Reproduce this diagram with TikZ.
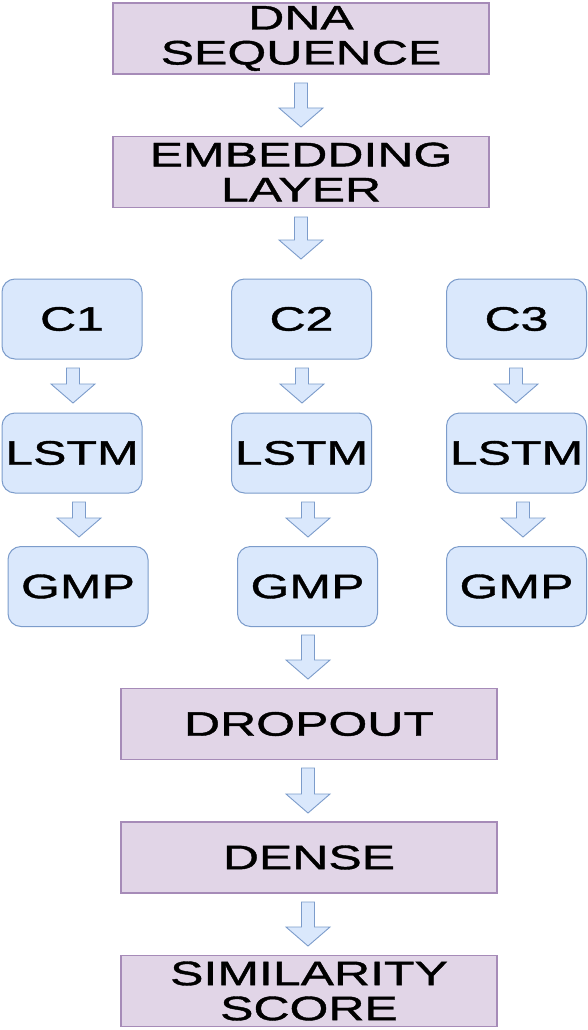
\documentclass[tikz,border=0pt]{standalone}
\usepackage{fontspec}
\setmainfont{Liberation Sans}[FakeStretch=1.47,FakeBold=1.2]
\definecolor{pfill}{HTML}{E1D5E7}
\definecolor{pdraw}{HTML}{A68BB8}
\definecolor{bfill}{HTML}{DAE8FC}
\definecolor{bdraw}{HTML}{7C9CCB}
\tikzset{
  x=1pt, y=-1pt,
  layerbox/.style={draw=pdraw, fill=pfill, line width=1.1pt, minimum width=376pt, minimum height=71pt,
    inner sep=0pt, align=center, font=\fontsize{34}{35}\selectfont},
  opbox/.style={draw=bdraw, fill=bfill, line width=1pt, rounded corners=13pt, minimum width=140pt,
    minimum height=80pt, inner sep=0pt, align=center, font=\fontsize{34}{35}\selectfont},
  blockarrow/.style={draw=bdraw, fill=bfill, line width=0.9pt, line join=miter}
}
% \blockarr{x}{ytop}{ybottom}
\newcommand{\blockarr}[3]{%
  \draw[blockarrow] (#1-6.5,#2) -- (#1+6.5,#2) -- (#1+6.5,#3-19) -- (#1+22,#3-19) -- (#1,#3)
    -- (#1-22,#3-19) -- (#1-6.5,#3-19) -- cycle;}
\begin{document}
\begin{tikzpicture}
\useasboundingbox (0,0) rectangle (588,1030);
\fill[white] (0,0) rectangle (588,1030);

\node[layerbox] (dna) at (301,38.5) {DNA\\SEQUENCE};
\node[layerbox] (emb) at (301,172) {EMBEDDING\\LAYER};

\node[opbox] (c1) at (72,319) {C1};
\node[opbox] (c2) at (301.5,319) {C2};
\node[opbox] (c3) at (516.5,319) {C3};

\node[opbox] (l1) at (72,453) {LSTM};
\node[opbox] (l2) at (301.5,453) {LSTM};
\node[opbox] (l3) at (516.5,453) {LSTM};

\node[opbox] (g1) at (78,586.5) {GMP};
\node[opbox] (g2) at (307.5,586.5) {GMP};
\node[opbox] (g3) at (516.5,586.5) {GMP};

\node[layerbox] (drop) at (309,724) {DROPOUT};
\node[layerbox] (dense) at (309,857.5) {DENSE};
\node[layerbox] (sim) at (309,991) {SIMILARITY\\SCORE};

\blockarr{301}{83}{127}
\blockarr{301}{217}{259}
\blockarr{73}{368}{403}
\blockarr{302}{368}{403}
\blockarr{516}{368}{403}
\blockarr{79}{502}{537}
\blockarr{308}{502}{537}
\blockarr{523}{502}{537}
\blockarr{308}{635}{679}
\blockarr{308}{768}{813}
\blockarr{308}{902}{946}
\end{tikzpicture}
\end{document}
